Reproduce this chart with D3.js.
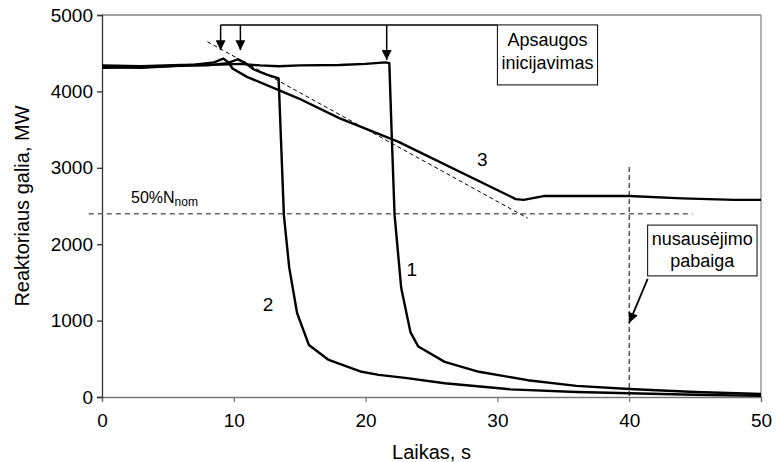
<!DOCTYPE html>
<html>
<head>
<meta charset="utf-8">
<script src="https://cdn.jsdelivr.net/npm/d3@7/dist/d3.min.js"></script>
<style>
  body { margin: 0; background: #fff; }
  text { font-family: Arial, 'Liberation Sans', sans-serif; fill: #000; }
</style>
</head>
<body>
<svg id="chart" width="776" height="462"></svg>
<script>
// curve 1 - protection at ~21.6 s
const curve1Time = [0, 3, 6, 9, 10.5, 12, 13.4, 15, 18, 20, 21.5, 21.8, 22, 22.2, 22.7, 23.4, 24, 26, 28.6, 32.3, 36, 40, 45, 50]
const curve1Power = [4340, 4330, 4345, 4350, 4360, 4340, 4330, 4340, 4345, 4360, 4380, 4370, 3340, 2380, 1430, 850, 660, 460, 330, 220, 145, 105, 65, 40]

// curve 2 - protection at ~10.5 s
const curve2Time = [0, 3, 6, 8, 9.5, 10.3, 10.8, 11.5, 12.5, 13.4, 13.8, 14.2, 14.8, 15.7, 17.2, 19.7, 21, 23, 26, 31, 36, 40, 45, 50]
const curve2Power = [4310, 4320, 4335, 4340, 4370, 4420, 4380, 4290, 4220, 4170, 2380, 1700, 1100, 680, 485, 330, 290, 250, 180, 100, 65, 50, 30, 15]

// curve 3 - protection at ~9 s, power reduction
const curve3Time = [0, 3, 5, 7, 8.5, 9.2, 9.6, 9.9, 11, 14.9, 18, 22.5, 31.4, 32, 33.5, 40, 44, 48, 50]
const curve3Power = [4320, 4310, 4330, 4350, 4380, 4430, 4380, 4300, 4190, 3910, 3650, 3340, 2590, 2580, 2630, 2630, 2600, 2580, 2580]

const xTicks = [0, 10, 20, 30, 40, 50]
const yTicks = [0, 1000, 2000, 3000, 4000, 5000]

const curveLabels = ['1', '2', '3']
const curveLabelTime = [23.5, 12.6, 28.85]
const curveLabelPower = [1585, 1125, 3020]

const halfPower = 2400 // 50% Nnom
const tangentTime = [8, 32.3]
const tangentPower = [4650, 2340]
const endTime = 40
const endTop = 3010
const arrowTime = [9, 10.5, 21.6]
const arrowTip = [4540, 4540, 4410]

const margin = { top: 15, left: 102, right: 15, bottom: 65 }
const svg = d3.select('#chart')
const width = 776 - margin.left - margin.right
const height = 462 - margin.top - margin.bottom

const x = d3.scaleLinear().domain([0, 50]).range([0, width])
const y = d3.scaleLinear().domain([0, 5000]).range([height, 0])

svg.append('defs')
  .append('marker')
  .attr('id', 'head')
  .attr('viewBox', '0 0 10 10')
  .attr('refX', 10)
  .attr('refY', 5)
  .attr('markerWidth', 12)
  .attr('markerHeight', 10)
  .attr('markerUnits', 'userSpaceOnUse')
  .attr('orient', 'auto')
  .append('path')
  .attr('d', 'M0,0 L10,5 L0,10 Z')
  .attr('fill', '#000')

const g = svg.append('g')
  .attr('transform', 'translate(' + margin.left + ',' + margin.top + ')')

// frame
g.append('line').attr('x1', 0).attr('x2', width).attr('y1', 0).attr('y2', 0)
  .attr('stroke', '#444').attr('stroke-width', 1)
g.append('line').attr('x1', width).attr('x2', width).attr('y1', 0).attr('y2', height)
  .attr('stroke', '#999').attr('stroke-width', 1.5)

const xAxis = g.append('g')
  .attr('transform', 'translate(0,' + height + ')')
  .call(d3.axisBottom(x).tickValues(xTicks).tickFormat(d3.format('d')).tickSize(5).tickPadding(12))
xAxis.selectAll('path, line').attr('stroke', '#777').attr('stroke-width', 1.3)
xAxis.selectAll('text').attr('font-size', 19).attr('font-family', 'Arial, Liberation Sans')

const yAxis = g.append('g')
  .call(d3.axisLeft(y).tickValues(yTicks).tickFormat(d3.format('d')).tickSize(5).tickPadding(4))
yAxis.selectAll('path, line').attr('stroke', '#333').attr('stroke-width', 1.3)
yAxis.selectAll('text').attr('font-size', 19).attr('font-family', 'Arial, Liberation Sans')

svg.append('text')
  .text('Laikas, s')
  .attr('x', margin.left + width / 2)
  .attr('y', 459)
  .attr('font-size', 20)
  .attr('text-anchor', 'middle')

svg.append('text')
  .text('Reaktoriaus galia, MW')
  .attr('transform', 'translate(29,' + (margin.top + height / 2) + ') rotate(-90)')
  .attr('font-size', 20)
  .attr('text-anchor', 'middle')

// reference lines
g.append('line')
  .attr('x1', x(-1)).attr('x2', x(44.8))
  .attr('y1', y(halfPower)).attr('y2', y(halfPower))
  .attr('stroke', '#666').attr('stroke-width', 1.5).attr('stroke-dasharray', '5,4')

g.append('line')
  .attr('x1', x(tangentTime[0])).attr('x2', x(tangentTime[1]))
  .attr('y1', y(tangentPower[0])).attr('y2', y(tangentPower[1]))
  .attr('stroke', '#000').attr('stroke-width', 1).attr('stroke-dasharray', '4,3')

g.append('line')
  .attr('x1', x(endTime)).attr('x2', x(endTime))
  .attr('y1', y(endTop)).attr('y2', y(0))
  .attr('stroke', '#000').attr('stroke-width', 1).attr('stroke-dasharray', '5,3')

const line = d3.line()
  .x(d => x(d[0]))
  .y(d => y(d[1]))

const series = [
  d3.zip(curve1Time, curve1Power),
  d3.zip(curve2Time, curve2Power),
  d3.zip(curve3Time, curve3Power)
]

g.selectAll('.curve')
  .data(series)
  .enter()
  .append('path')
  .attr('class', 'curve')
  .attr('d', line)
  .attr('fill', 'none')
  .attr('stroke', '#000')
  .attr('stroke-width', 2.4)
  .attr('stroke-linejoin', 'round')

g.selectAll('.clabel')
  .data(curveLabels)
  .enter()
  .append('text')
  .attr('class', 'clabel')
  .text(d => d)
  .attr('x', (d, i) => x(curveLabelTime[i]))
  .attr('y', (d, i) => y(curveLabelPower[i]))
  .attr('font-size', 19)
  .attr('text-anchor', 'middle')

const nomLabel = g.append('text')
  .attr('x', x(2.2))
  .attr('y', y(2540))
  .attr('font-size', 16)
nomLabel.append('tspan').text('50%N')
nomLabel.append('tspan').text('nom').attr('font-size', 12).attr('dy', 3)

// protection initiation annotation
const boxLeft = 30
const boxRight = 37.6
const boxTop = 4870
const boxBottom = 4085

g.append('line')
  .attr('x1', x(arrowTime[0])).attr('x2', x(boxLeft))
  .attr('y1', y(boxTop)).attr('y2', y(boxTop))
  .attr('stroke', '#000').attr('stroke-width', 1.5)

g.selectAll('.arrow')
  .data(arrowTime)
  .enter()
  .append('line')
  .attr('class', 'arrow')
  .attr('x1', d => x(d)).attr('x2', d => x(d))
  .attr('y1', y(boxTop))
  .attr('y2', (d, i) => y(arrowTip[i]))
  .attr('stroke', '#000').attr('stroke-width', 1.5)
  .attr('marker-end', 'url(#head)')

g.append('rect')
  .attr('x', x(boxLeft)).attr('y', y(boxTop))
  .attr('width', x(boxRight) - x(boxLeft))
  .attr('height', y(boxBottom) - y(boxTop))
  .attr('fill', '#fff').attr('stroke', '#000').attr('stroke-width', 1)

const boxText = g.append('text')
  .attr('x', (x(boxLeft) + x(boxRight)) / 2)
  .attr('y', y(boxTop) + 21)
  .attr('font-size', 18)
  .attr('text-anchor', 'middle')
boxText.append('tspan').text('Apsaugos')
boxText.append('tspan').text('inicijavimas')
  .attr('x', (x(boxLeft) + x(boxRight)) / 2).attr('dy', 23)

// end of drying annotation
const endBoxLeft = 41.4
const endBoxRight = 49.7
const endBoxTop = 2250
const endBoxBottom = 1585

g.append('rect')
  .attr('x', x(endBoxLeft)).attr('y', y(endBoxTop))
  .attr('width', x(endBoxRight) - x(endBoxLeft))
  .attr('height', y(endBoxBottom) - y(endBoxTop))
  .attr('fill', '#fff').attr('stroke', '#000').attr('stroke-width', 1)

const endText = g.append('text')
  .attr('x', (x(endBoxLeft) + x(endBoxRight)) / 2)
  .attr('y', y(endBoxTop) + 20)
  .attr('font-size', 18)
  .attr('text-anchor', 'middle')
endText.append('tspan').text('nusausėjimo')
endText.append('tspan').text('pabaiga')
  .attr('x', (x(endBoxLeft) + x(endBoxRight)) / 2).attr('dy', 22)

g.append('line')
  .attr('x1', x(41.4)).attr('y1', y(1545))
  .attr('x2', x(40)).attr('y2', y(970))
  .attr('stroke', '#000').attr('stroke-width', 1.8)
  .attr('marker-end', 'url(#head)')
</script>
</body>
</html>
